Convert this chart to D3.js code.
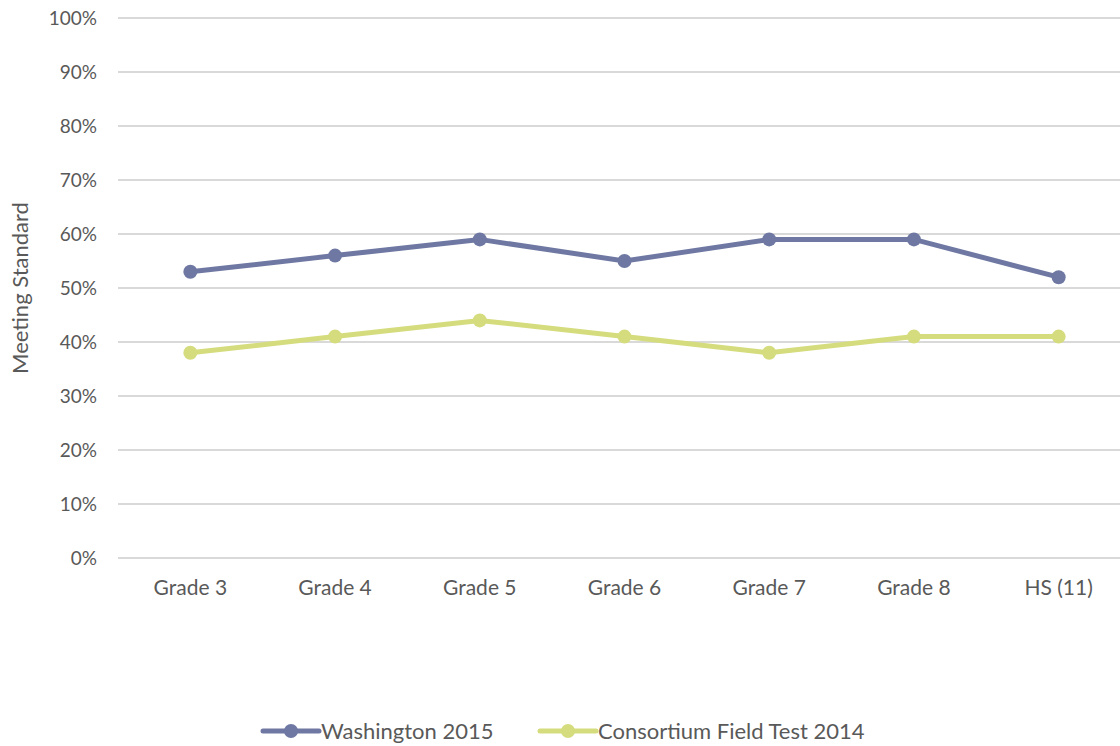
<!DOCTYPE html>
<html lang="en">
<head>
    <meta charset="UTF-8">
    <title>Meeting Standard</title>
    <script src="https://d3js.org/d3.v7.min.js"></script>
    <style>
        body { margin: 0; background: #fff; }
        text { font-family: "Lato", "Open Sans", sans-serif; fill: #595959; }
        .grid line { stroke: #d9d9d9; stroke-width: 2px; }
        .line { fill: none; stroke-width: 5px; }
    </style>
</head>
<body>
    <div id="chart"></div>

    <script>
        var grades = ["Grade 3", "Grade 4", "Grade 5", "Grade 6", "Grade 7", "Grade 8", "HS (11)"];
        var washington = [53, 56, 59, 55, 59, 59, 52];
        var consortium = [38, 41, 44, 41, 38, 41, 41];
        var seriesNames = ["Washington 2015", "Consortium Field Test 2014"];
        var seriesColors = ["#6e78a2", "#d5dc7d"];
        var yTicks = [0, 10, 20, 30, 40, 50, 60, 70, 80, 90, 100];

        var width = 1120, height = 746;
        var margin = {top: 18, left: 118, bottom: 188};

        var svg = d3.select("#chart").append("svg")
            .attr("width", width)
            .attr("height", height);

        var x = d3.scaleBand().domain(grades).range([margin.left, margin.left + 1013]);
        var y = d3.scaleLinear().domain([0, 100]).range([height - margin.bottom, margin.top]);

        // gridlines
        svg.append("g").attr("class", "grid")
            .selectAll("line").data(yTicks).enter().append("line")
            .attr("x1", margin.left).attr("x2", width)
            .attr("y1", function(d) { return y(d); })
            .attr("y2", function(d) { return y(d); });

        // y tick labels
        svg.append("g").selectAll("text").data(yTicks).enter().append("text")
            .attr("x", 97).attr("y", function(d) { return y(d); })
            .attr("dy", "0.35em").attr("text-anchor", "end")
            .style("font-size", "19px")
            .text(function(d) { return d + "%"; });

        // x labels
        svg.append("g").selectAll("text").data(grades).enter().append("text")
            .attr("x", function(d) { return x(d) + x.bandwidth() / 2; })
            .attr("y", 588).attr("dy", "0.35em").attr("text-anchor", "middle")
            .style("font-size", "21px")
            .text(function(d) { return d; });

        // axis title
        svg.append("text")
            .attr("transform", "translate(28,288) rotate(-90)")
            .attr("text-anchor", "middle")
            .style("font-size", "22px")
            .text("Meeting Standard");

        var series = [washington, consortium];
        var line = d3.line()
            .x(function(d, i) { return x(grades[i]) + x.bandwidth() / 2; })
            .y(function(d) { return y(d); });

        series.forEach(function(vals, s) {
            svg.append("path").attr("class", "line")
                .attr("d", line(vals))
                .attr("stroke", seriesColors[s]);
            svg.append("g").selectAll("circle").data(vals).enter().append("circle")
                .attr("cx", function(d, i) { return x(grades[i]) + x.bandwidth() / 2; })
                .attr("cy", function(d) { return y(d); })
                .attr("r", 7)
                .attr("fill", seriesColors[s]);
        });

        // legend
        var legendX = [263, 540];
        var legendY = 731;
        seriesNames.forEach(function(name, s) {
            var g = svg.append("g").attr("transform", "translate(" + legendX[s] + "," + legendY + ")");
            g.append("line").attr("x1", 0).attr("x2", 56).attr("y1", 0).attr("y2", 0)
                .attr("stroke", seriesColors[s]).attr("stroke-width", 5)
                .attr("stroke-linecap", "round");
            g.append("circle").attr("cx", 28).attr("cy", 0).attr("r", 7).attr("fill", seriesColors[s]);
            g.append("text").attr("x", 58).attr("y", 0).attr("dy", "0.35em")
                .style("font-size", "22px")
                .text(name);
        });
    </script>
</body>
</html>
